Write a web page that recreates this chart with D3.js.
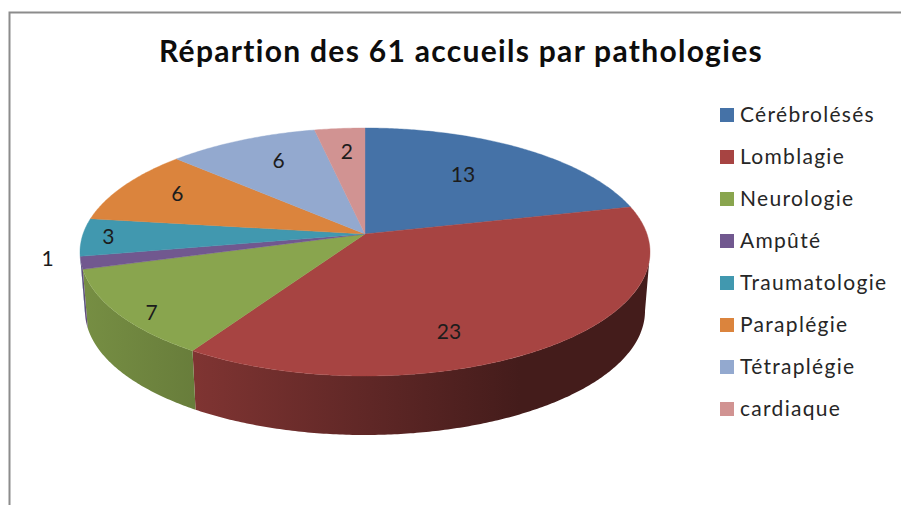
<!DOCTYPE html>
<html><head><meta charset="utf-8">
<script src="https://cdn.jsdelivr.net/npm/d3@7/dist/d3.min.js"></script>
<style>html,body{margin:0;padding:0;background:#fff}svg{display:block}text{font-family:Lato,"Open Sans",sans-serif}</style>
</head><body><svg id="c" width="901" height="505"></svg>
<script>
const titleText = "Répartion des 61 accueils par pathologies";
const categories = ["Cérébrolésés","Lomblagie","Neurologie","Ampûté","Traumatologie","Paraplégie","Tétraplégie","cardiaque"];
const values = [13,23,7,1,3,6,6,2];
const colors = ["#4572a7","#a74442","#89a54e","#71588f","#4198af","#db843d","#93a9cf","#d19392"];

// layout
const top_ = {cx:365, cy:252, rx:285, ry:124};
const base = {cx:365, cy:311, rx:280, ry:124};
const A = (234-252)/124;             // perspective: where the pie apex lands on the ellipse
const K = Math.sqrt(1-A*A);
const labelRadius = 0.65;
const labelNudge = [[-8,-2],[-31,28],[-58,28],[-135,6],[-73,0],[-28,-8],[-3,-10],[-1,-11]];
const wallShade = d3.scaleLinear().domain([85,195,370,520,650]).range([0.86,0.76,0.57,0.41,0.41]);

const svg = d3.select("#c");
const defs = svg.append("defs");

function disc(t,r=1){
  const x=r*Math.sin(t), y=-r*Math.cos(t), d=1+A*y;
  return [x*K/d,(y+A)/d];
}
const onTop = (t,r=1)=>{const [u,v]=disc(t,r);return [top_.cx+top_.rx*u, top_.cy+top_.ry*v];};
const onBase = t=>{const [u,v]=disc(t);return [base.cx+base.rx*u, base.cy+base.ry*v];};

const arcs = d3.pie().sort(null).startAngle(0).endAngle(2*Math.PI)(values);
const line = d3.line();
const samples = (a,b)=>{const n=Math.max(2,Math.ceil((b-a)/0.01));return d3.range(n+1).map(i=>a+(b-a)*i/n);};

// frame
svg.append("path").attr("d","M9.5 505V12.5H901").attr("fill","none").attr("stroke","#8c8c8c").attr("stroke-width",2);

// side walls (only the front half of the rim is visible)
const tFront0 = Math.acos(A), tFront1 = 2*Math.PI - tFront0;
arcs.forEach((d,i)=>{
  const a=Math.max(d.startAngle,tFront0), b=Math.min(d.endAngle,tFront1);
  if(b<=a) return;
  const ts=samples(a,b);
  const base_=d3.color(colors[i]);
  const id="wall"+i;
  const g=defs.append("linearGradient").attr("id",id).attr("gradientUnits","userSpaceOnUse")
    .attr("x1",80).attr("x2",650).attr("y1",0).attr("y2",0);
  wallShade.domain().forEach(x=>{
    const f=wallShade(x), c=d3.rgb(base_.r*f,base_.g*f,base_.b*f);
    g.append("stop").attr("offset",(x-80)/570).attr("stop-color",c.formatHex());
  });
  const pts=ts.map(t=>onTop(t)).concat(ts.slice().reverse().map(onBase));
  svg.append("path").attr("d",line(pts)+"Z").attr("fill",`url(#${id})`);
});

// top face
arcs.forEach((d,i)=>{
  const pts=[onTop(0,0)].concat(samples(d.startAngle,d.endAngle).map(t=>onTop(t)));
  svg.append("path").attr("d",line(pts)+"Z").attr("fill",colors[i]).attr("stroke",colors[i]).attr("stroke-width",0.4);
});

// data labels
arcs.forEach((d,i)=>{
  const [x,y]=onTop((d.startAngle+d.endAngle)/2,labelRadius);
  svg.append("text").attr("x",x+labelNudge[i][0]).attr("y",y+labelNudge[i][1]).attr("dy","0.36em")
    .attr("text-anchor","middle").attr("font-size",21).attr("fill","#1c1c1c").text(values[i]);
});

// title
svg.append("text").attr("x",461).attr("y",62).attr("text-anchor","middle")
  .attr("font-size",30).attr("font-weight",700).attr("fill","#0d0d0d").attr("letter-spacing",1.3).text(titleText);

// legend
const ly=d3.scalePoint().domain(categories).range([115,409]);
const lg=svg.append("g").selectAll("g").data(categories).join("g").attr("transform",d=>`translate(720,${ly(d)})`);
lg.append("rect").attr("y",-7).attr("width",14).attr("height",14).attr("fill",(d,i)=>colors[i]);
lg.append("text").attr("x",20).attr("dy","0.35em").attr("font-size",21).attr("letter-spacing",1.3).attr("fill","#262626").text(d=>d);
</script></body></html>
